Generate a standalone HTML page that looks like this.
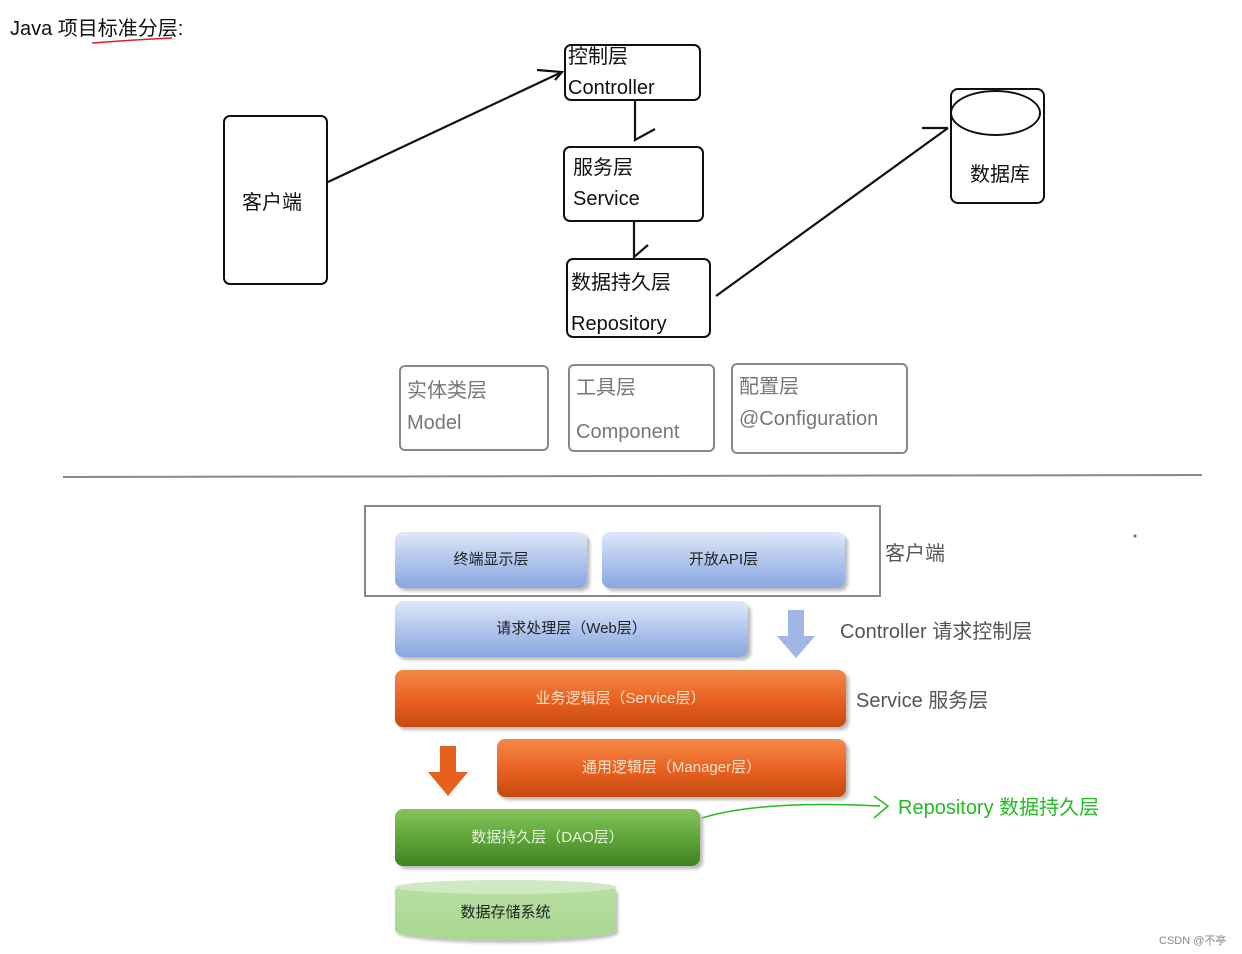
<!DOCTYPE html>
<html><head><meta charset="utf-8"><style>
body{margin:0;width:1242px;height:954px;background:#fff;position:relative;overflow:hidden;font-family:"Liberation Sans","Noto Sans CJK SC",sans-serif;}
.a{position:absolute;}
.bx{position:absolute;border:2.5px solid #111;border-radius:7px;box-sizing:border-box;}
.g{position:absolute;border:2.5px solid #888;border-radius:6px;box-sizing:border-box;color:#777;font-size:20px;line-height:32px;padding-left:6px}
.t{font-size:20px;color:#111;}
.bar{position:absolute;border-radius:8px;box-shadow:3px 3px 3px #bbb;text-align:center;font-size:15px;}
.blue{background:linear-gradient(#dfe8f8,#a9c0ea 60%,#8aa6e0);color:#222;}
.org{background:linear-gradient(#f4894a,#e8601e 55%,#c44a10);color:#fde3d0;}
.grn{background:linear-gradient(#86c45e,#5ca236 55%,#3f8421);color:#e5f3dc;}
.lab{position:absolute;font-size:20px;color:#555;}
</style></head><body>
<div class="a t" style="left:10px;top:12px;">Java 项目标准分层:</div>
<svg class="a" style="left:0;top:0" width="1242" height="954">
<path d="M92 43 Q130 40 172 38" stroke="#d22" stroke-width="1.5" fill="none"/>
<g stroke="#111" stroke-width="2.2" fill="none">
<line x1="328" y1="182" x2="562" y2="72"/><polyline points="537,70 562,72 555,80"/>
<polyline points="635,100 635,140 655,129"/>
<polyline points="634,222 634,257 648,245"/>
<line x1="716" y1="296" x2="948" y2="128"/><line x1="922" y1="128" x2="948" y2="128"/>
</g>
<line x1="63" y1="477" x2="1202" y2="475" stroke="#888" stroke-width="2"/>
<path d="M702 818 Q760 800 880 806" stroke="#2b2" stroke-width="1.5" fill="none"/>
<polyline points="874,796 888,806 874,818" stroke="#2b2" stroke-width="1.5" fill="none"/>
<polygon points="788,610 804,610 804,636 815,636 796,658 777,636 788,636" fill="#9fb6e6"/>
<polygon points="440,746 456,746 456,772 468,772 448,796 428,772 440,772" fill="#e8601e"/>
<circle cx="1135" cy="536" r="1.5" fill="#666"/>
</svg>
<div class="bx" style="left:223px;top:115px;width:105px;height:170px;"></div>
<div class="a t" style="left:242px;top:186px;">客户端</div>
<div class="bx" style="left:564px;top:44px;width:137px;height:57px;"></div>
<div class="a t" style="left:568px;top:42px;line-height:31px">控制层<br>Controller</div>
<div class="bx" style="left:563px;top:146px;width:141px;height:76px;"></div>
<div class="a t" style="left:573px;top:153px;line-height:31px">服务层<br>Service</div>
<div class="bx" style="left:566px;top:258px;width:145px;height:80px;"></div>
<div class="a t" style="left:571px;top:263px;line-height:41px">数据持久层<br>Repository</div>
<div class="bx" style="left:950px;top:88px;width:95px;height:116px;border-radius:8px"></div>
<div class="a" style="left:950px;top:90px;width:91px;height:46px;border:2.5px solid #111;border-radius:50%;box-sizing:border-box"></div>
<div class="a t" style="left:970px;top:158px;">数据库</div>
<div class="g" style="left:399px;top:365px;width:150px;height:86px;padding-top:8px">实体类层<br>Model</div>
<div class="g" style="left:568px;top:364px;width:147px;height:88px;padding-top:0px;line-height:44px">工具层<br>Component</div>
<div class="g" style="left:731px;top:363px;width:177px;height:91px;padding-top:6px">配置层<br>@Configuration</div>
<div class="a" style="left:364px;top:505px;width:517px;height:92px;border:2.5px solid #888;box-sizing:border-box"></div>
<div class="bar blue" style="left:395px;top:532px;width:192px;height:56px;line-height:56px">终端显示层</div>
<div class="bar blue" style="left:602px;top:532px;width:243px;height:56px;line-height:56px">开放API层</div>
<div class="lab" style="left:885px;top:537px">客户端</div>
<div class="bar blue" style="left:395px;top:601px;width:353px;height:56px;line-height:56px">请求处理层（Web层）</div>
<div class="lab" style="left:840px;top:615px">Controller 请求控制层</div>
<div class="bar org" style="left:395px;top:670px;width:451px;height:57px;line-height:57px">业务逻辑层（Service层）</div>
<div class="lab" style="left:856px;top:684px">Service 服务层</div>
<div class="bar org" style="left:497px;top:739px;width:349px;height:58px;line-height:58px">通用逻辑层（Manager层）</div>
<div class="bar grn" style="left:395px;top:809px;width:305px;height:57px;line-height:57px">数据持久层（DAO层）</div>
<div class="a" style="left:898px;top:791px;font-size:20px;color:#2b2">Repository 数据持久层</div>
<div class="a" style="left:395px;top:880px;width:221px;height:60px;background:linear-gradient(#b9e0a5,#a8d690);border-radius:50% / 10px;box-shadow:2px 3px 3px #bbb;text-align:center;line-height:66px;font-size:15px;color:#222">数据存储系统</div>
<div class="a" style="left:395px;top:880px;width:221px;height:14px;background:#cfe9c2;border-radius:50%"></div>
<div class="a" style="left:1159px;top:932px;font-size:11px;color:#888">CSDN @不亭</div>
</body></html>
